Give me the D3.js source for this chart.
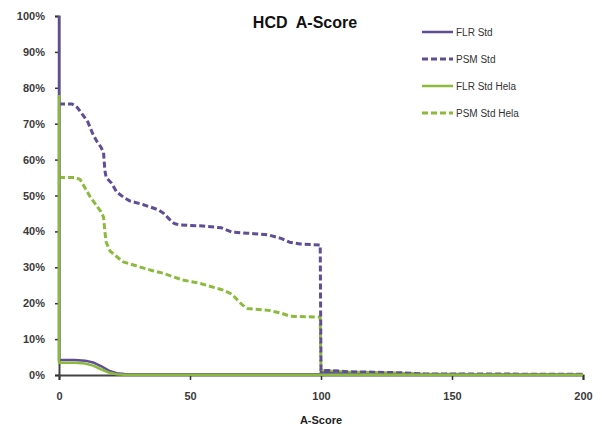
<!DOCTYPE html>
<html><head><meta charset="utf-8">
<script src="https://cdn.jsdelivr.net/npm/d3@7"></script>
<style>body{margin:0;background:#fff}svg{display:block}</style>
</head><body><svg id="c" width="602" height="432"></svg>
<script>
const seriesNames = ["FLR Std", "PSM Std", "FLR Std Hela", "PSM Std Hela"];
const flrStdX = [0,0,6,10,13,16,19,22,25,30,60,99.7,100,100.5,110,120,200];
const flrStdY = [100,4.2,4.2,4.0,3.5,2.5,1.2,0.5,0.3,0.2,0.2,0.2,0.8,0.6,0.3,0.1,0.1];
const flrHelaX = [0,0,6,10,13,16,19,22,25,200];
const flrHelaY = [78,3.4,3.4,3.2,2.6,1.6,0.7,0.2,0.1,0.1];
const psmStdX = [0,5,7,9,11,13,14.5,16,17,17.5,18,20,22,24.5,27,32,38,40,42,44,46,55,62,66,72,80,85,88,92,99.7,100,105,110,120,131,140,200];
const psmStdY = [75.5,75.5,74.5,72.5,70.5,67,65,63.5,62,57,55,53.5,51,49.6,48.5,47.5,46,45,43.5,42.2,41.8,41.5,41,39.8,39.5,39,38,37,36.5,36.2,1.3,1.2,0.9,0.8,0.6,0.3,0.2];
const psmHelaX = [0,6,8,10,12,14,16,17,17.5,18,19.5,22,24.5,30,35,40,47,54,60,63,66,68,70,72,80,85,88,99.7,100,105,110,120,131,140,200];
const psmHelaY = [55,55,54.5,52,49.5,47.5,45.5,44,40,37,34.5,33,31.5,30.3,29.2,28.3,26.5,25.5,24.2,23.6,22.5,21,19.5,18.5,18,17.2,16.4,16.1,1.2,1.0,0.8,0.7,0.5,0.2,0.1];
const xTicks = [0,50,100,150,200];
const yTicks = [0,10,20,30,40,50,60,70,80,90,100];

const purple = "#5f4d96", green = "#8cba3c";
const svg = d3.select("#c");
const x = d3.scaleLinear().domain([0,200]).range([59,583]);
const y = d3.scaleLinear().domain([0,100]).range([375,16]);
const font = "'Liberation Sans', Arial, sans-serif";

// axes
const xa = svg.append("g").attr("transform","translate(0,375)")
  .call(d3.axisBottom(x).tickValues(xTicks).tickSize(5).tickPadding(12).tickFormat(d3.format("d")));
const ya = svg.append("g").attr("transform","translate(59,0)")
  .call(d3.axisLeft(y).tickValues(yTicks).tickSize(4).tickPadding(10).tickFormat(d=>d+"%"));
[xa,ya].forEach(a=>{
  a.select(".domain").attr("stroke","#444").attr("stroke-width",2);
  a.selectAll(".tick line").attr("stroke","#333").attr("stroke-width",1.5);
  a.selectAll("text").attr("font-family",font).attr("font-size",11)
    .attr("font-weight","bold").attr("fill","#3a3a3a");
});

const line = d3.line().x(d=>x(d[0])).y(d=>y(d[1]));
const zip = (a,b)=>a.map((v,i)=>[v,b[i]]);
const defs = [
  {name:seriesNames[3], data:zip(psmHelaX,psmHelaY), color:green, dash:"6,3"},
  {name:seriesNames[1], data:zip(psmStdX,psmStdY), color:purple, dash:"6,3"},
  {name:seriesNames[0], data:zip(flrStdX,flrStdY), color:purple, dash:null},
  {name:seriesNames[2], data:zip(flrHelaX,flrHelaY), color:green, dash:null},
];
defs.forEach(s=>{
  svg.append("path").attr("d",line(s.data)).attr("fill","none")
    .attr("stroke",s.color).attr("stroke-width",s.dash?3:2.5)
    .attr("stroke-dasharray",s.dash).attr("stroke-linejoin","round");
});

// title
svg.append("text").attr("x",305).attr("y",28).attr("text-anchor","middle")
  .attr("font-family",font).attr("font-weight","bold").attr("font-size",16).attr("fill","#111")
  .style("white-space","pre")
  .text("HCD  A-Score");
// axis title
svg.append("text").attr("x",321).attr("y",424).attr("text-anchor","middle")
  .attr("font-family",font).attr("font-weight","bold").attr("font-size",11).attr("fill","#222")
  .text("A-Score");

// legend
const leg = [
  {name:seriesNames[0], color:purple, dash:null},
  {name:seriesNames[1], color:purple, dash:"6,3"},
  {name:seriesNames[2], color:green, dash:null},
  {name:seriesNames[3], color:green, dash:"6,3"},
];
leg.forEach((l,i)=>{
  const yy = 32 + i*27;
  svg.append("line").attr("x1",422).attr("x2",453).attr("y1",yy).attr("y2",yy)
    .attr("stroke",l.color).attr("stroke-width",l.dash?3:2.5).attr("stroke-dasharray",l.dash);
  svg.append("text").attr("x",456).attr("y",yy+4).attr("font-family",font)
    .attr("font-size",10).attr("fill","#333").text(l.name);
});
</script></body></html>
